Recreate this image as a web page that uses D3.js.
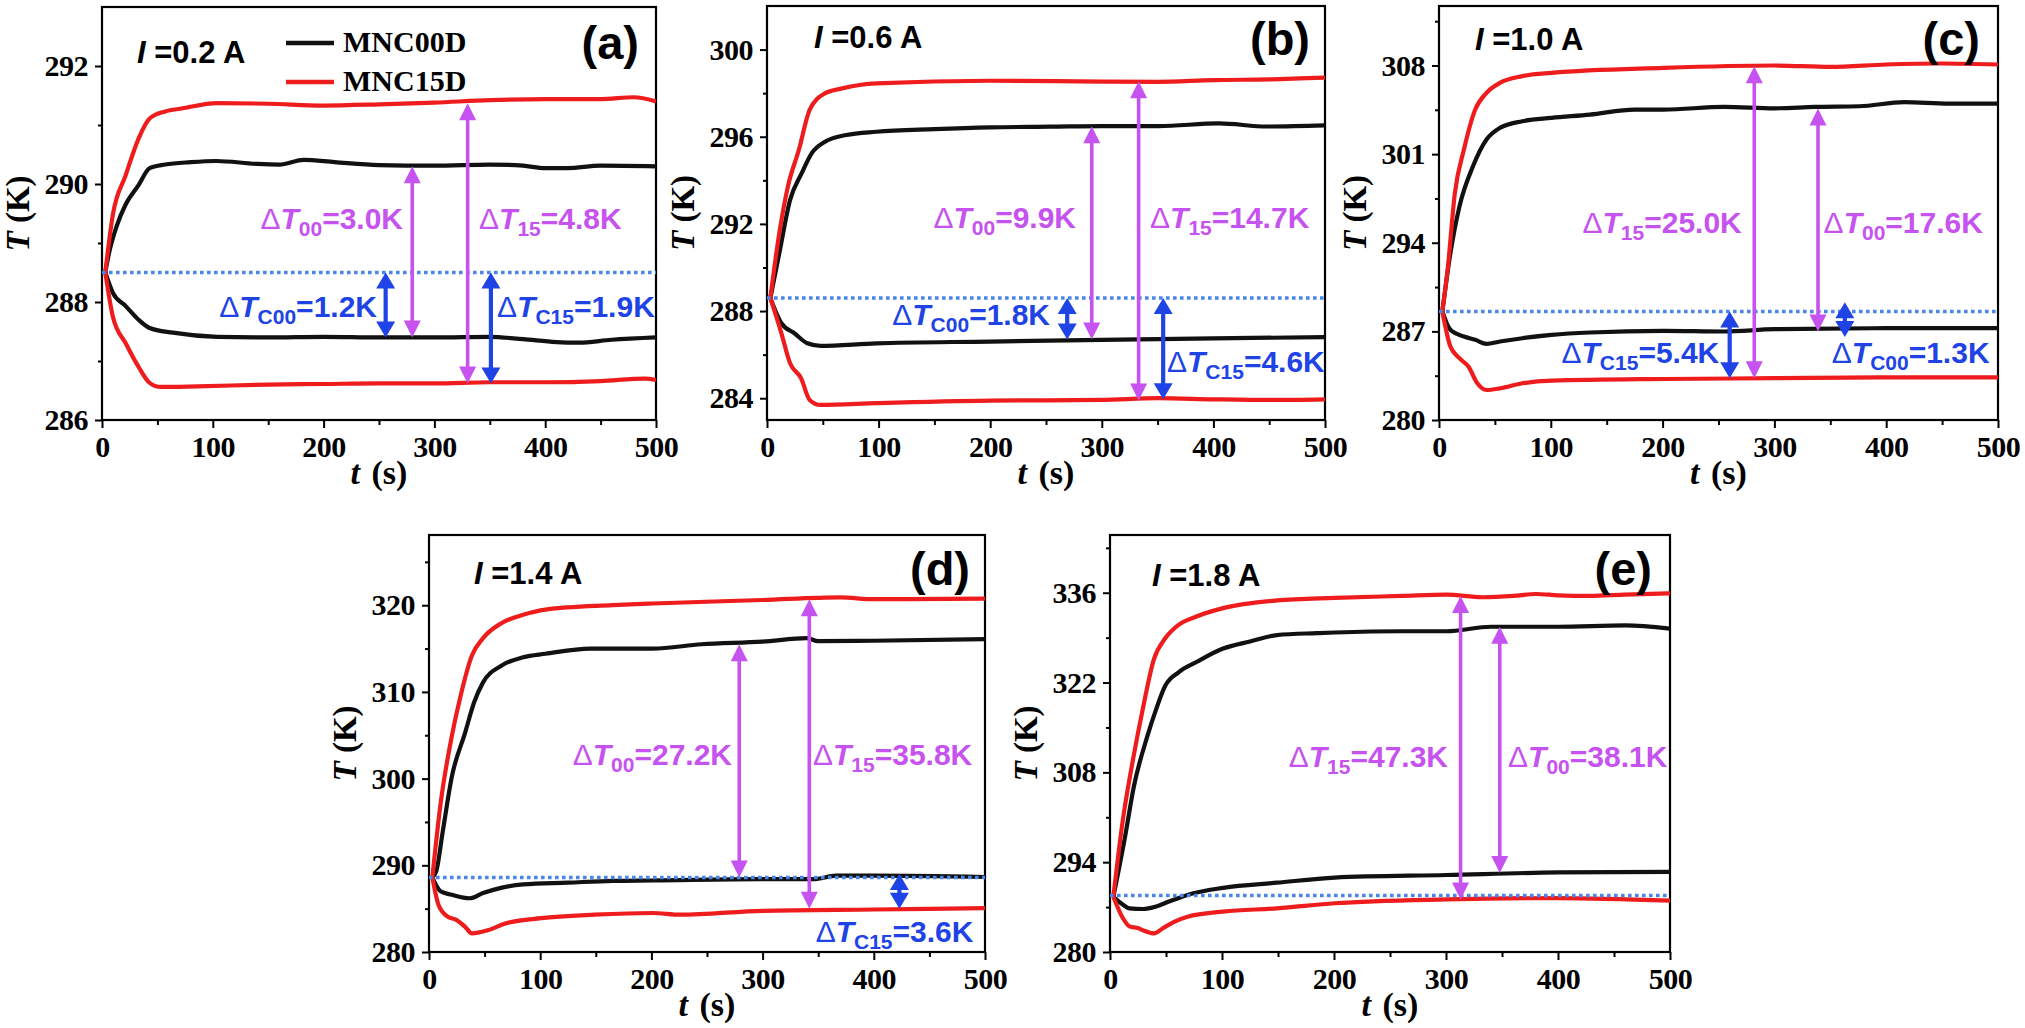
<!DOCTYPE html>
<html><head><meta charset="utf-8">
<script src="https://cdn.jsdelivr.net/npm/d3@7/dist/d3.min.js"></script>
<style>body{margin:0;background:#fff;} svg{display:block;}</style>
</head><body>
<svg id="chart" width="2025" height="1028"></svg>
<script>
// ---------------- DATA ----------------
const seriesNames = ["MNC00D", "MNC15D"];
const panelLetters = ["a", "b", "c", "d", "e"];
const currents = ["0.2", "0.6", "1.0", "1.4", "1.8"];
const timeTicks = [0, 100, 200, 300, 400, 500];
const timeMinorTicks = [50, 150, 250, 350, 450];

const a_yDomain = [286, 293];
const a_yTicks = [286, 288, 290, 292];
const a_yMinor = [287, 289, 291];
const b_yDomain = [283, 302];
const b_yTicks = [284, 288, 292, 296, 300];
const b_yMinor = [286, 290, 294, 298];
const c_yDomain = [280, 312.7];
const c_yTicks = [280, 287, 294, 301, 308];
const c_yMinor = [283.5, 290.5, 297.5, 304.5, 311.5];
const d_yDomain = [280, 328.1];
const d_yTicks = [280, 290, 300, 310, 320];
const d_yMinor = [285, 295, 305, 315, 325];
const e_yDomain = [280, 345];
const e_yTicks = [280, 294, 308, 322, 336];
const e_yMinor = [287, 301, 315, 329, 343];

// [t (s), T (K)]
const a_MNC00D_up = [[3,288.5],[6,288.8],[13.5,289.3],[21,289.64],[33,289.98],[43,290.27],[57,290.33],[80,290.37],[103,290.39],[140,290.34],[160,290.33],[182,290.41],[210,290.37],[250,290.32],[300,290.31],[350,290.33],[380,290.31],[400,290.27],[420,290.27],[450,290.31],[500,290.3]];
const a_MNC00D_low = [[3,288.5],[9.7,288.16],[21.4,287.93],[33,287.7],[43,287.56],[64,287.48],[104,287.41],[150,287.4],[200,287.41],[250,287.4],[300,287.4],[350,287.41],[380,287.37],[410,287.32],[430,287.31],[460,287.36],[500,287.4]];
const a_MNC15D_up = [[3,288.5],[9.7,289.47],[21.4,290.15],[33,290.77],[43,291.11],[57,291.23],[72,291.28],[104,291.37],[150,291.36],[200,291.33],[250,291.35],[300,291.38],[350,291.42],[400,291.44],[450,291.44],[480,291.47],[500,291.4]];
const a_MNC15D_low = [[3,288.5],[9.7,287.76],[21.4,287.3],[33,286.9],[43,286.63],[53,286.56],[86,286.57],[150,286.6],[200,286.61],[250,286.62],[300,286.62],[350,286.64],[400,286.64],[450,286.66],[490,286.7],[500,286.68]];

const b_MNC00D_up = [[3,288.6],[11,290.65],[20.7,293.1],[31,294.32],[40,295.24],[52,295.77],[71,296.08],[98,296.23],[150,296.35],[200,296.43],[254,296.46],[300,296.49],[351,296.49],[405,296.61],[448,296.47],[500,296.52]];
const b_MNC00D_low = [[3,288.6],[12.9,287.44],[24.6,286.98],[36.2,286.52],[47.9,286.4],[98,286.52],[200,286.6],[300,286.68],[400,286.75],[500,286.8]];
const b_MNC15D_up = [[3,288.6],[11,291.57],[18.7,293.71],[28.5,295.39],[38.2,297.23],[51.8,297.99],[67.3,298.22],[98,298.45],[200,298.57],[300,298.53],[350,298.52],[400,298.6],[450,298.63],[500,298.71]];
const b_MNC15D_low = [[3,288.6],[12.9,286.98],[20.7,285.6],[30.5,284.92],[38.2,283.92],[47.9,283.69],[98,283.77],[200,283.89],[300,283.92],[350,284.0],[400,283.95],[450,283.92],[500,283.95]];

const c_MNC00D_up = [[3,288.57],[10.2,293.18],[18.3,296.87],[30.4,300.04],[42.5,302.15],[54.5,303.07],[74.5,303.6],[100.7,303.86],[135,304.12],[175,304.52],[201,304.52],[255,304.73],[300,304.62],[336,304.73],[376,304.78],[416,305.1],[456,304.99],[500,304.99]];
const c_MNC00D_low = [[3,288.57],[10.2,287.12],[22.3,286.59],[32.4,286.33],[42.5,286.01],[54.5,286.2],[74.5,286.46],[100.7,286.72],[135,286.91],[201,287.04],[255,286.99],[300,287.17],[400,287.25],[500,287.25]];
const c_MNC15D_up = [[3,288.57],[8,292.13],[14.2,297.93],[22.3,301.36],[32.4,304.52],[42.5,305.84],[54.5,306.63],[74.5,307.16],[100.7,307.42],[201,307.81],[300,308.0],[350,307.89],[400,308.08],[450,308.16],[500,308.08]];
const c_MNC15D_low = [[3,288.57],[10.2,285.8],[18.3,284.88],[26.3,284.22],[34.3,282.9],[42.5,282.37],[54.5,282.5],[74.5,282.9],[100.7,283.11],[201,283.24],[300,283.3],[400,283.37],[500,283.37]];

const d_MNC00D_up = [[3,288.6],[6.5,289.3],[12.5,294.0],[20.5,300.2],[32.5,305.3],[40.6,308.8],[48.6,311.1],[64.7,313.0],[84.7,314.0],[104.8,314.4],[145,315.0],[201,315.0],[245,315.5],[300,315.8],[340,316.2],[350,315.85],[400,315.9],[500,316.1]];
const d_MNC00D_low = [[3,288.6],[10.4,287.0],[20.5,286.6],[36.5,286.2],[48.6,286.8],[64.7,287.4],[84.7,287.8],[125,288.0],[165,288.2],[201,288.25],[300,288.4],[346,288.4],[366,288.8],[400,288.8],[500,288.65]];
const d_MNC15D_up = [[3,288.6],[10.4,297.1],[20.5,304.9],[28.5,309.6],[38.6,314.2],[48.6,316.2],[64.7,317.9],[84.7,318.9],[104.8,319.5],[165,320.0],[201,320.2],[300,320.6],[370,320.9],[400,320.7],[500,320.75]];
const d_MNC15D_low = [[3,288.6],[8.5,285.45],[16.5,284.1],[24.5,283.7],[32.5,282.9],[38.6,282.15],[52.6,282.5],[68.7,283.3],[100.7,283.9],[149,284.3],[201,284.5],[226,284.3],[300,284.75],[400,284.9],[500,285.05]];

const e_MNC00D_up = [[3,288.6],[13.4,297.9],[21.3,305.8],[33.3,313.6],[41.3,317.9],[49.3,321.5],[61.2,323.6],[77.2,325.2],[101,327.3],[125,328.4],[149,329.4],[185,329.7],[200.7,329.8],[260.5,330.0],[300.4,330.0],[340.2,330.7],[400,330.7],[460,330.9],[500,330.4]];
const e_MNC00D_low = [[3,288.6],[11.4,287.4],[17.4,286.8],[29.3,286.7],[41.3,287.1],[53.2,287.9],[69.2,288.9],[101,290.0],[149,290.8],[200.7,291.6],[300.4,292.0],[400,292.4],[500,292.5]];
const e_MNC15D_up = [[3,288.6],[11.4,300.5],[19.4,308.9],[29.3,317.9],[39.3,325.7],[49.3,328.9],[61.2,331.0],[77.2,332.3],[101,333.6],[149,334.8],[200.7,335.2],[260.5,335.5],[300.4,335.7],[332.3,335.3],[360.2,335.5],[380.1,335.8],[400,335.6],[427.9,335.5],[459.8,335.7],[500,335.9]];
const e_MNC15D_low = [[3,288.6],[11.4,285.3],[17.4,284.0],[25.4,283.7],[29.3,283.4],[39.3,282.9],[47.2,283.7],[57.2,284.7],[69.2,285.5],[101,286.3],[149,286.8],[200.7,287.6],[300.4,288.2],[400,288.4],[500,288.0]];

// initial (reference) temperature per panel
const baselineT = [288.5, 288.6, 288.57, 288.6, 288.8];

// arrows: [t, T from, T to, kind ('v' total difference, 'b' cooling)]
const a_arrows = [[280, 290.3, 287.4, "v"], [330, 291.37, 286.62, "v"], [256, 288.5, 287.4, "b"], [351, 288.5, 286.62, "b"]];
const b_arrows = [[291, 296.48, 286.7, "v"], [333, 298.55, 283.9, "v"], [269, 288.6, 286.7, "b"], [355, 288.6, 283.95, "b"]];
const c_arrows = [[282, 307.95, 283.3, "v"], [339, 304.6, 287.0, "v"], [260, 288.57, 283.3, "b"], [363, 289.3, 286.55, "b"]];
const d_arrows = [[279, 315.5, 288.6, "v"], [342, 320.7, 285.0, "v"], [423, 289.0, 285.0, "b"]];
const e_arrows = [[313, 335.5, 288.2, "v"], [348, 330.7, 292.3, "v"]];

// labels: [subscript, value, t, T, anchor, kind]
const a_labels = [["00", "3.0", 271.7, 289.24, "end", "v"], ["15", "4.8", 340.3, 289.24, "start", "v"], ["C00", "1.2", 248.2, 287.75, "end", "b"], ["C15", "1.9", 356.5, 287.75, "start", "b"]];
const b_labels = [["00", "9.9", 276.9, 291.8, "end", "v"], ["15", "14.7", 343.2, 291.8, "start", "v"], ["C00", "1.8", 253.6, 287.36, "end", "b"], ["C15", "4.6", 358.4, 285.2, "start", "b"]];
const c_labels = [["15", "25.0", 270.8, 294.8, "end", "v"], ["00", "17.6", 344, 294.8, "start", "v"], ["C15", "5.4", 250.7, 284.5, "end", "b"], ["C00", "1.3", 351.3, 284.5, "start", "b"]];
const d_labels = [["00", "27.2", 272.5, 301.6, "end", "v"], ["15", "35.8", 345.3, 301.6, "start", "v"], ["C15", "3.6", 347.7, 281.2, "start", "b"]];
const e_labels = [["15", "47.3", 301.8, 308.9, "end", "v"], ["00", "38.1", 355.4, 308.9, "start", "v"]];

// ---------------- LAYOUT / STYLE ----------------
const layout = [
  {x0: 102, x1: 656, y0: 7, y1: 420, cur: [35, 56], let: [-17, 52]},
  {x0: 767, x1: 1325, y0: 6, y1: 420, cur: [47, 42], let: [-15, 49]},
  {x0: 1439, x1: 1998, y0: 6, y1: 420, cur: [36, 44], let: [-18, 49]},
  {x0: 429, x1: 985, y0: 535, y1: 952, cur: [45, 49], let: [-15, 50]},
  {x0: 1110, x1: 1670, y0: 535, y1: 952, cur: [42, 51], let: [-18, 50]}
];
const panelData = [
  {dom: a_yDomain, ticks: a_yTicks, minor: a_yMinor, s00: [a_MNC00D_up, a_MNC00D_low], s15: [a_MNC15D_up, a_MNC15D_low], arrows: a_arrows, labels: a_labels},
  {dom: b_yDomain, ticks: b_yTicks, minor: b_yMinor, s00: [b_MNC00D_up, b_MNC00D_low], s15: [b_MNC15D_up, b_MNC15D_low], arrows: b_arrows, labels: b_labels},
  {dom: c_yDomain, ticks: c_yTicks, minor: c_yMinor, s00: [c_MNC00D_up, c_MNC00D_low], s15: [c_MNC15D_up, c_MNC15D_low], arrows: c_arrows, labels: c_labels},
  {dom: d_yDomain, ticks: d_yTicks, minor: d_yMinor, s00: [d_MNC00D_up, d_MNC00D_low], s15: [d_MNC15D_up, d_MNC15D_low], arrows: d_arrows, labels: d_labels},
  {dom: e_yDomain, ticks: e_yTicks, minor: e_yMinor, s00: [e_MNC00D_up, e_MNC00D_low], s15: [e_MNC15D_up, e_MNC15D_low], arrows: e_arrows, labels: e_labels}
];

const COL00 = "#111111", COL15 = "#ee1c1c";
const VIOLET = "#c652ef", BLUE = "#2043e6", DOTBLUE = "#4a86e8";
const SERIF = "'Liberation Serif','Times New Roman',serif";
const SANS = "'Liberation Sans',Arial,sans-serif";

const svg = d3.select("#chart");
svg.append("rect").attr("width", 2025).attr("height", 1028).attr("fill", "#fff");
const defs = svg.append("defs");

function drawArrow(g, x, ya, yb, color, kind) {
  const hw = kind === "b" ? 9.5 : 8.5, hl = kind === "b" ? 16 : 17, lw = kind === "b" ? 4.2 : 3.6;
  const top = Math.min(ya, yb), bot = Math.max(ya, yb);
  if (bot - top > 2 * hl) {
    g.append("line").attr("x1", x).attr("x2", x).attr("y1", top + hl - 1).attr("y2", bot - hl + 1)
      .attr("stroke", color).attr("stroke-width", lw);
  }
  const h = Math.min(hl, (bot - top) / 2 + 1);
  g.append("path").attr("d", `M${x},${top}L${x - hw},${top + h}L${x + hw},${top + h}Z`).attr("fill", color);
  g.append("path").attr("d", `M${x},${bot}L${x - hw},${bot - h}L${x + hw},${bot - h}Z`).attr("fill", color);
}

function drawLabel(g, x, y, anchor, color, sub, value) {
  const t = g.append("text").attr("x", x).attr("y", y).attr("text-anchor", anchor)
    .attr("fill", color).style("font-family", SANS).style("font-weight", "bold").style("font-size", "30px");
  t.append("tspan").text("Δ").style("font-weight", "normal");
  t.append("tspan").text("T").style("font-style", "italic");
  t.append("tspan").text(sub).style("font-size", "21px").attr("dy", 7);
  t.append("tspan").text("=" + value + "K").attr("dy", -7);
}

panelData.forEach((p, i) => {
  const L = layout[i];
  const x = d3.scaleLinear().domain([0, 500]).range([L.x0, L.x1]);
  const y = d3.scaleLinear().domain(p.dom).range([L.y1, L.y0]);
  const g = svg.append("g");

  defs.append("clipPath").attr("id", "clip" + i).append("rect")
    .attr("x", L.x0).attr("y", L.y0).attr("width", L.x1 - L.x0).attr("height", L.y1 - L.y0);

  // axes
  const fmt = d3.format("d");
  const yAx = g.append("g").attr("transform", `translate(${L.x0},0)`)
    .call(d3.axisLeft(y).tickValues(p.ticks).tickSize(7).tickPadding(7).tickFormat(fmt));
  const yMin = g.append("g").attr("transform", `translate(${L.x0},0)`)
    .call(d3.axisLeft(y).tickValues(p.minor).tickSize(4).tickFormat(""));
  const xAx = g.append("g").attr("transform", `translate(0,${L.y1})`)
    .call(d3.axisBottom(x).tickValues(timeTicks).tickSize(8).tickPadding(6).tickFormat(fmt));
  const xMin = g.append("g").attr("transform", `translate(0,${L.y1})`)
    .call(d3.axisBottom(x).tickValues(timeMinorTicks).tickSize(5).tickFormat(""));
  [yAx, yMin, xAx, xMin].forEach(a => {
    a.attr("font-family", null).attr("font-size", null);
    a.select(".domain").remove();
    a.selectAll(".tick line").attr("stroke", "#000").attr("stroke-width", 2);
    a.selectAll(".tick text").attr("fill", "#000").style("font-family", SERIF)
      .style("font-weight", "bold").style("font-size", "30px").style("letter-spacing", "-0.5px");
  });
  xAx.selectAll(".tick text").attr("dy", "0.78em");

  // frame
  g.append("rect").attr("x", L.x0).attr("y", L.y0).attr("width", L.x1 - L.x0).attr("height", L.y1 - L.y0)
    .attr("fill", "none").attr("stroke", "#000").attr("stroke-width", 2.2);

  // axis titles
  const cy = (L.y0 + L.y1) / 2;
  const yt = g.append("text").attr("transform", `translate(${L.x0 - 73},${cy}) rotate(-90)`)
    .attr("text-anchor", "middle").style("font-family", SERIF).style("font-weight", "bold").style("font-size", "33px");
  yt.append("tspan").text("T").style("font-style", "italic");
  yt.append("tspan").text(" (K)");
  const xt = g.append("text").attr("x", (L.x0 + L.x1) / 2).attr("y", L.y1 + 64)
    .attr("text-anchor", "middle").style("font-family", SERIF).style("font-weight", "bold").style("font-size", "34px");
  xt.append("tspan").text("t").style("font-style", "italic");
  xt.append("tspan").text(" (s)").attr("dx", 3);

  // data lines
  const line = d3.line().x(d => x(d[0])).y(d => y(d[1])).curve(d3.curveMonotoneX);
  const dg = g.append("g").attr("clip-path", `url(#clip${i})`);
  p.s00.forEach(s => dg.append("path").attr("d", line(s)).attr("fill", "none")
    .attr("stroke", COL00).attr("stroke-width", 4.2).attr("stroke-linejoin", "round"));
  p.s15.forEach(s => dg.append("path").attr("d", line(s)).attr("fill", "none")
    .attr("stroke", COL15).attr("stroke-width", 4.2).attr("stroke-linejoin", "round"));

  // baseline
  dg.append("line").attr("x1", x(0)).attr("x2", x(500)).attr("y1", y(baselineT[i])).attr("y2", y(baselineT[i]))
    .attr("stroke", DOTBLUE).attr("stroke-width", 3.4).attr("stroke-dasharray", "3.6,3.4");

  // arrows
  p.arrows.forEach(a => drawArrow(g, x(a[0]), y(a[1]), y(a[2]), a[3] === "v" ? VIOLET : BLUE, a[3]));
  // labels
  p.labels.forEach(l => drawLabel(g, x(l[2]), y(l[3]), l[4], l[5] === "v" ? VIOLET : BLUE, l[0], l[1]));

  // current label
  const ct = g.append("text").attr("x", L.x0 + L.cur[0]).attr("y", L.y0 + L.cur[1])
    .style("font-family", SANS).style("font-weight", "bold").style("font-size", "31px");
  ct.append("tspan").text("I").style("font-style", "italic");
  ct.append("tspan").text(" =" + currents[i] + " A");

  // panel letter
  g.append("text").attr("x", L.x1 + L.let[0]).attr("y", L.y0 + L.let[1]).attr("text-anchor", "end")
    .style("font-family", SANS).style("font-weight", "bold").style("font-size", "47px")
    .text("(" + panelLetters[i] + ")");

  // legend (panel a only)
  if (i === 0) {
    const lg = g.append("g");
    [COL00, COL15].forEach((c, k) => {
      const ly = 43 + k * 39;
      lg.append("line").attr("x1", 286).attr("x2", 334).attr("y1", ly).attr("y2", ly)
        .attr("stroke", c).attr("stroke-width", 4.5);
      lg.append("text").attr("x", 343).attr("y", ly + 9).text(seriesNames[k])
        .style("font-family", SERIF).style("font-weight", "bold").style("font-size", "30px");
    });
  }
});
</script>
</body></html>
